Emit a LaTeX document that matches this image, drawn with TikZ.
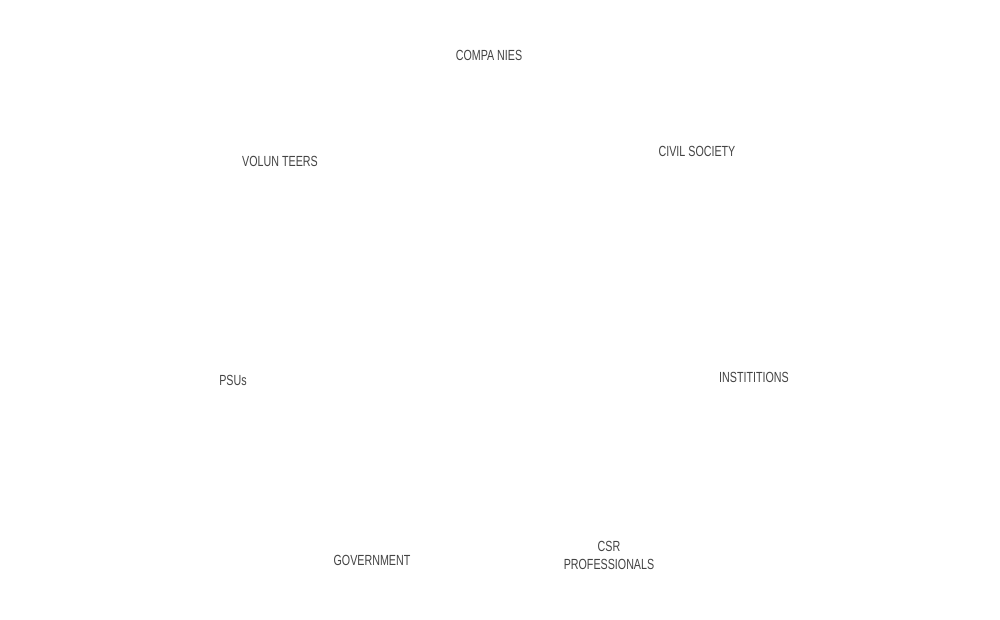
\documentclass[tikz,border=0pt]{standalone}
\usepackage{fontspec}
\setmainfont[FakeStretch=0.73]{Liberation Sans}
\definecolor{lbl}{HTML}{444444}
\begin{document}
\begin{tikzpicture}[x=0.75pt,y=-0.75pt,
  lab/.style={text=lbl,font=\fontsize{11}{13.5}\selectfont,inner sep=0pt,align=center}]
\useasboundingbox[fill=white] (0,0) rectangle (1000,620);
\node[lab] (companies) at (489,55) {COMPA NIES};
\node[lab] (volunteers) at (280,161) {VOLUN TEERS};
\node[lab] (civil) at (697,151) {CIVIL SOCIETY};
\node[lab] (psus) at (233,380) {PSUs};
\node[lab] (inst) at (754,377) {INSTITITIONS};
\node[lab] (gov) at (372,560) {GOVERNMENT};
\node[lab] (csr) at (609,555) {CSR\\PROFESSIONALS};
\end{tikzpicture}
\end{document}
